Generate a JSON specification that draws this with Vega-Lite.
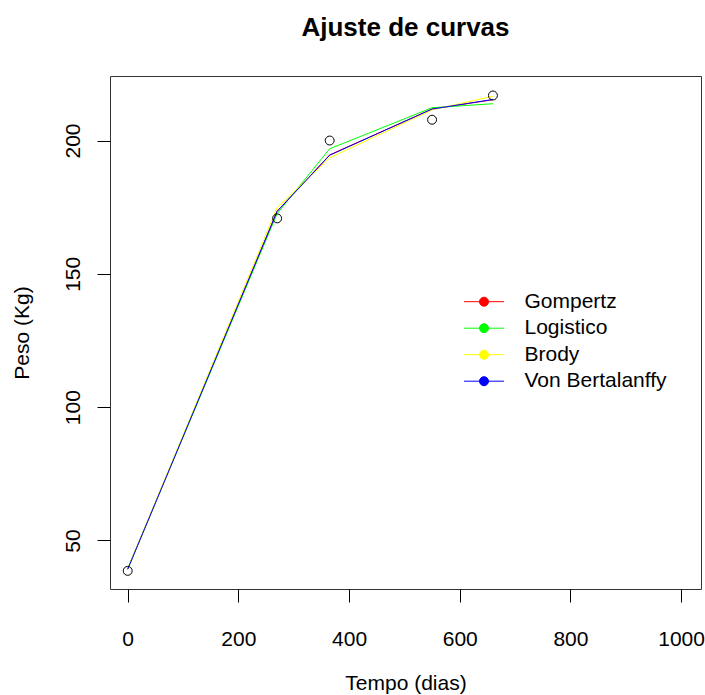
{
  "$schema": "https://vega.github.io/schema/vega-lite/v6.json",
  "width": 591,
  "height": 513,
  "autosize": {"type": "none"},
  "padding": {"left": 110, "top": 76, "right": 4, "bottom": 106},
  "background": "white",
  "config": {
    "view": {"stroke": "#333333", "strokeWidth": 1},
    "font": "Liberation Sans"
  },
  "title": {
    "text": "Ajuste de curvas",
    "fontSize": 26,
    "fontWeight": "bold",
    "font": "Liberation Sans",
    "color": "black",
    "anchor": "middle",
    "baseline": "alphabetic",
    "offset": 14.5
  },
  "datasets": {
    "curvas": [
      {"modelo": "Gompertz", "tempo": 0, "peso": 39.3},
      {"modelo": "Gompertz", "tempo": 270, "peso": 173.5},
      {"modelo": "Gompertz", "tempo": 365, "peso": 194.6},
      {"modelo": "Gompertz", "tempo": 550, "peso": 211.8},
      {"modelo": "Gompertz", "tempo": 660, "peso": 215.3},
      {"modelo": "Logistico", "tempo": 0, "peso": 39.5},
      {"modelo": "Logistico", "tempo": 270, "peso": 172.6},
      {"modelo": "Logistico", "tempo": 365, "peso": 196.9},
      {"modelo": "Logistico", "tempo": 550, "peso": 212.3},
      {"modelo": "Logistico", "tempo": 660, "peso": 213.8},
      {"modelo": "Brody", "tempo": 0, "peso": 39.2},
      {"modelo": "Brody", "tempo": 270, "peso": 174.9},
      {"modelo": "Brody", "tempo": 365, "peso": 193.5},
      {"modelo": "Brody", "tempo": 550, "peso": 211.5},
      {"modelo": "Brody", "tempo": 660, "peso": 216.6},
      {"modelo": "Von Bertalanffy", "tempo": 0, "peso": 39.2},
      {"modelo": "Von Bertalanffy", "tempo": 270, "peso": 173.4},
      {"modelo": "Von Bertalanffy", "tempo": 365, "peso": 194.5},
      {"modelo": "Von Bertalanffy", "tempo": 550, "peso": 211.8},
      {"modelo": "Von Bertalanffy", "tempo": 660, "peso": 215.4}
    ],
    "obs": [
      {"tempo": 0, "peso": 38.6},
      {"tempo": 270, "peso": 170.8},
      {"tempo": 365, "peso": 200.0},
      {"tempo": 550, "peso": 207.8},
      {"tempo": 660, "peso": 216.9}
    ]
  },
  "layer": [
    {
      "data": {"name": "curvas"},
      "mark": {"type": "line", "strokeWidth": 1},
      "encoding": {
        "x": {
          "field": "tempo",
          "type": "quantitative",
          "scale": {"domain": [-32, 1036], "nice": false, "zero": false},
          "axis": {
            "title": "Tempo (dias)",
            "values": [0, 200, 400, 600, 800, 1000],
            "format": "d",
            "domain": false,
            "grid": false,
            "ticks": true,
            "tickSize": 13,
            "tickColor": "#000000",
            "tickWidth": 1,
            "labelFontSize": 21,
            "labelFont": "Liberation Sans",
            "labelColor": "#000000",
            "labelPadding": 26,
            "labelFlush": false,
            "labelOverlap": false,
            "labelBaseline": "top",
            "titleFontSize": 21,
            "titleFont": "Liberation Sans",
            "titleFontWeight": "normal",
            "titleColor": "#000000",
            "titleBaseline": "alphabetic",
            "titleY": 100
          }
        },
        "y": {
          "field": "peso",
          "type": "quantitative",
          "scale": {"domain": [31.8, 224.2], "nice": false, "zero": false},
          "axis": {
            "title": "Peso (Kg)",
            "values": [50, 100, 150, 200],
            "format": "d",
            "domain": false,
            "grid": false,
            "ticks": true,
            "tickSize": 13,
            "tickColor": "#000000",
            "tickWidth": 1,
            "labelFontSize": 21,
            "labelFont": "Liberation Sans",
            "labelColor": "#000000",
            "labelAngle": -90,
            "labelAlign": "center",
            "labelBaseline": "alphabetic",
            "labelPadding": 17.7,
            "labelFlush": false,
            "labelOverlap": false,
            "titleFontSize": 21,
            "titleFont": "Liberation Sans",
            "titleFontWeight": "normal",
            "titleColor": "#000000",
            "titleAngle": -90,
            "titleAlign": "center",
            "titleBaseline": "alphabetic",
            "titleX": -82,
            "titleY": 256.5
          }
        },
        "color": {
          "field": "modelo",
          "type": "nominal",
          "sort": ["Gompertz", "Logistico", "Brody", "Von Bertalanffy"],
          "scale": {
            "domain": ["Gompertz", "Logistico", "Brody", "Von Bertalanffy"],
            "range": ["#ff0000", "#00ff00", "#ffff00", "#0000ff"]
          },
          "legend": {
            "orient": "none",
            "legendX": 363.5,
            "legendY": 215.2,
            "title": null,
            "padding": 0,
            "symbolType": "M-2,0H2M-0.45,0A0.45,0.45,0,1,0,0.45,0A0.45,0.45,0,1,0,-0.45,0Z",
            "symbolSize": 400,
            "symbolStrokeWidth": 1,
            "labelFontSize": 21,
            "labelFont": "Liberation Sans",
            "labelColor": "#000000",
            "labelOffset": 30,
            "rowPadding": 4.5,
            "encode": {
              "symbols": {
                "update": {
                  "fill": {"scale": "color", "field": "value"},
                  "stroke": {"scale": "color", "field": "value"},
                  "opacity": {"value": 1},
                  "strokeWidth": {"value": 1}
                }
              }
            }
          }
        }
      }
    },
    {
      "data": {"name": "obs"},
      "mark": {"type": "point", "shape": "circle", "filled": false, "color": "#000000", "size": 80, "strokeWidth": 1, "opacity": 1},
      "encoding": {
        "x": {"field": "tempo", "type": "quantitative"},
        "y": {"field": "peso", "type": "quantitative"}
      }
    }
  ]
}
